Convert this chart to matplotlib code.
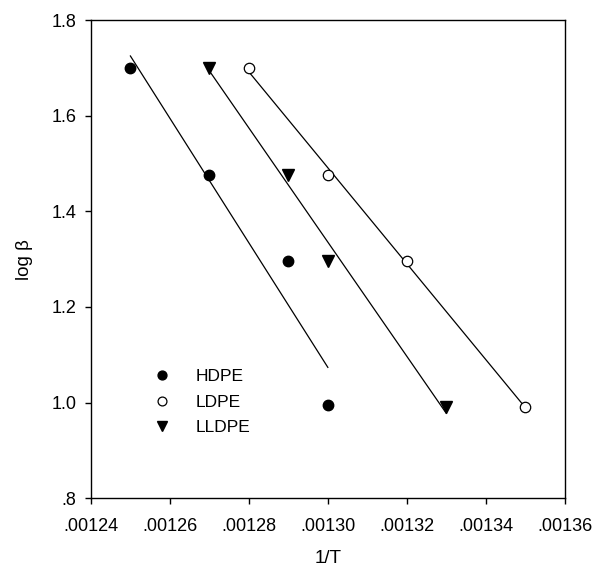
import numpy as np
import matplotlib
matplotlib.use("Agg")
import matplotlib.pyplot as plt

plt.rcParams['font.family'] = ['Liberation Sans', 'DejaVu Sans']

# Data
hdpe_x = [0.00125, 0.00127, 0.00129, 0.00130]
hdpe_y = [1.699, 1.477, 1.296, 0.995]
ldpe_x = [0.00128, 0.00130, 0.00132, 0.00135]
ldpe_y = [1.699, 1.477, 1.297, 0.990]
lldpe_x = [0.00127, 0.00129, 0.00130, 0.00133]
lldpe_y = [1.699, 1.477, 1.296, 0.990]

x_ticks = [0.00124, 0.00126, 0.00128, 0.00130, 0.00132, 0.00134, 0.00136]
x_ticklabels = ['.00124', '.00126', '.00128', '.00130', '.00132', '.00134', '.00136']
y_ticks = [0.8, 1.0, 1.2, 1.4, 1.6, 1.8]
y_ticklabels = ['.8', '1.0', '1.2', '1.4', '1.6', '1.8']

fig = plt.figure(figsize=(6.06, 5.74), dpi=100)
ax = fig.add_axes([0.150, 0.132, 0.782, 0.833])

series = [
    ('HDPE', hdpe_x, hdpe_y, dict(marker='o', mfc='black', mec='black', ms=7.5)),
    ('LDPE', ldpe_x, ldpe_y, dict(marker='o', mfc='white', mec='black', ms=7.5, mew=0.9)),
    ('LLDPE', lldpe_x, lldpe_y, dict(marker='v', mfc='black', mec='black', ms=8)),
]

for name, xs, ys, st in series:
    xs = np.asarray(xs); ys = np.asarray(ys)
    k, b = np.polyfit(xs, ys, 1)
    xl = np.array([xs.min(), xs.max()])
    ax.plot(xl, k * xl + b, color='black', lw=0.9, zorder=2)
    ax.plot(xs, ys, linestyle='none', label=name, zorder=3, **st)

ax.set_xlim(0.00124, 0.00136)
ax.set_ylim(0.8, 1.8)
ax.set_xticks(x_ticks)
ax.set_xticklabels(x_ticklabels)
ax.set_yticks(y_ticks)
ax.set_yticklabels(y_ticklabels)
ax.tick_params(direction='out', length=4, width=1, labelsize=13, colors='black')
ax.tick_params(axis='x', pad=10)
ax.tick_params(axis='y', pad=6.5)
for s in ax.spines.values():
    s.set_linewidth(1.0)
    s.set_color('black')

ax.set_xlabel('1/T', fontsize=13.5, labelpad=11)
ax.set_ylabel('log β', fontsize=13.5, labelpad=13)

leg = ax.legend(loc='upper left', bbox_to_anchor=(153/606, 1 - 369/574),
                bbox_transform=fig.transFigure, frameon=False, fontsize=12.5,
                handlelength=1.0, handletextpad=1.45, labelspacing=0.6,
                borderpad=0, borderaxespad=0, markerscale=0.85)

fig.savefig('out.png', dpi=100)
